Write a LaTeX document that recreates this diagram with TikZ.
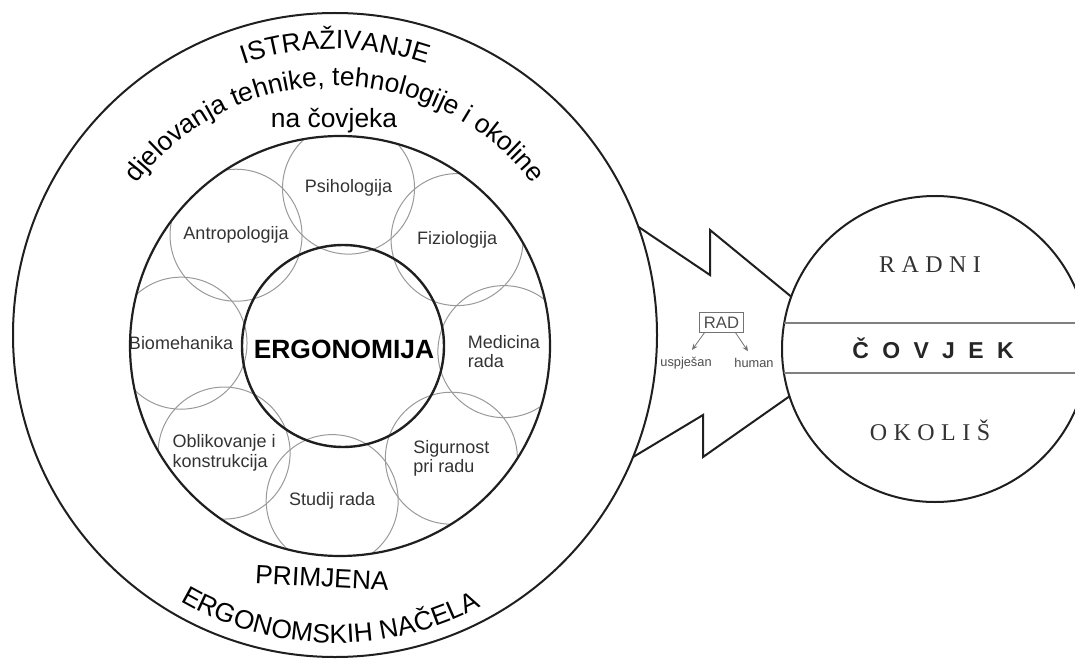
\documentclass[tikz,border=0pt]{standalone}
\usepackage{fontspec}
\setmainfont{Liberation Serif}
\setsansfont{Liberation Sans}
\usetikzlibrary{calc, decorations.text, arrows.meta}

\newcommand{\ringfont}{\sffamily\fontsize{13.2}{15}\selectfont}

\tikzset{
    ring/.style={draw=black!88, line width=1pt},
    field/.style={circle, draw=black!40, line width=0.5pt, minimum size=66pt, inner sep=0pt},
    fieldtext/.style={font=\sffamily\fontsize{9}{9.8}\selectfont, text=black!80, align=left, inner sep=0pt},
    curved/.style={decorate, decoration={text along path, text align=center, text={|\ringfont|#1}}},
    spaced/.style={font=\fontsize{12}{14}\selectfont\addfontfeatures{LetterSpace=27}, text=black!80},
    tip/.style={-{Stealth[length=3pt, width=2.6pt]}, draw=black!55, line width=0.4pt}
}

\begin{document}
\begin{tikzpicture}[x=0.5pt, y=0.5pt]
    \useasboundingbox (0,0) rectangle (1075,660);
    \clip (0,0) rectangle (1075,660);

    \coordinate (oc) at (335,325);
    \coordinate (mc) at (340,314);
    \coordinate (ic) at (343,314);
    \coordinate (rc) at (935,311);

    \begin{scope}
        \clip (mc) circle[radius=210];
        \foreach \ang/\dist/\name in {88/158/psih, 134/154/antro, 43/156/fizio, 179/162/bio,
                -2/161/med, 222/160/oblik, 314/156/sig, 266/155/stud}
            \node[field] (\name) at ($(ic)+(\ang:\dist)$) {};
    \end{scope}
    \foreach \name/\txt in {psih/Psihologija, antro/Antropologija, fizio/Fiziologija,
            bio/Biomehanika, med/{Medicina\\rada}, oblik/{Oblikovanje i\\konstrukcija},
            sig/{Sigurnost\\pri radu}, stud/Studij rada}
        \node[fieldtext] (\name-t) at (\name) {\txt};

    \draw[ring, line width=1.1pt] (mc) circle[radius=210];
    \draw[ring, line width=1.2pt] (ic) circle[radius=101];
    \node[font=\sffamily\bfseries\fontsize{13.2}{15}\selectfont] (ergo) at (344,311) {ERGONOMIJA};

    \draw[ring] (oc) circle[radius=322];
    \path[curved={ISTRAŽIVANJE}] ($(oc)+(120:286)$) arc[start angle=120, end angle=60, radius=286];
    \path[curved={djelovanja tehnike, tehnologije i okoline}] ($(oc)+(155:249)$) arc[start angle=155, end angle=25, radius=249];
    \node[font=\ringfont, anchor=base] (cov) at (334,532) {na čovjeka};
    \node[font=\ringfont, rotate=-3] (prim) at (322,82) {PRIMJENA};
    \path[curved={ERGONOMSKIH NAČELA}] ($(oc)+(225:308)$) arc[start angle=225, end angle=313, radius=308];

    \draw[ring] ($(oc)+(19.65:322)$) -- (710,385) -- (710,430) -- ($(rc)+(160:153)$);
    \draw[ring] ($(oc)+(-22.3:322)$) -- (703,245) -- (703,203) -- ($(rc)+(198:153)$);

    \draw[ring] (rc) circle[radius=153];
    \begin{scope}
        \clip (rc) circle[radius=153];
        \draw[black!50, line width=0.6pt] (770,337) -- (1100,337);
        \draw[black!50, line width=0.6pt] (770,287) -- (1100,287);
    \end{scope}
    \node[spaced] (radni) at (930,395) {RADNI};
    \node[font=\sffamily\bfseries\fontsize{11.5}{13}\selectfont\addfontfeatures{LetterSpace=58}, text=black!85] (covjek) at (933,312) {ČOVJEK};
    \node[spaced] (okolis) at (930,230) {OKOLIŠ};

    \node[draw=black!55, line width=0.5pt, inner sep=2pt, font=\sffamily\fontsize{8.3}{9}\selectfont, text=black!70] (rad) at (721.5,337.5) {RAD};
    \node[font=\sffamily\fontsize{6.4}{7}\selectfont, text=black!70] (usp) at (686,297) {uspješan};
    \node[font=\sffamily\fontsize{6.4}{7}\selectfont, text=black!70] (hum) at (754,297) {human};
    \draw[tip] ([xshift=2.5pt]rad.south west) -- ([xshift=3pt]usp.north);
    \draw[tip] ([xshift=-4pt]rad.south east) -- ([xshift=-3pt]hum.north);
\end{tikzpicture}
\end{document}
